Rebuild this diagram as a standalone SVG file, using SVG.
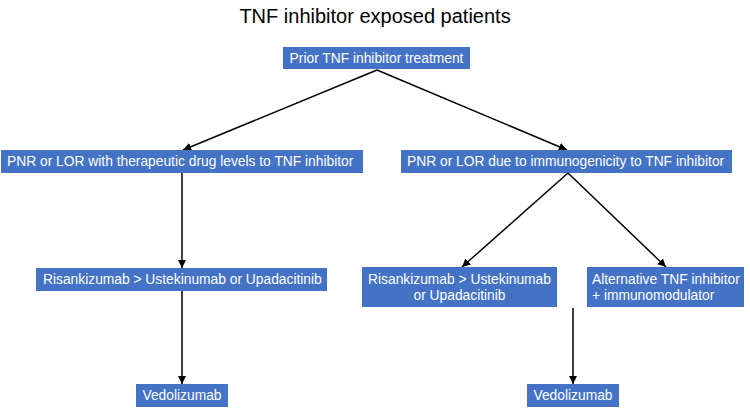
<svg xmlns="http://www.w3.org/2000/svg" width="750" height="408" viewBox="0 0 750 408">
<style>
.box{fill:#4472C4;}
.t{font-family:"Liberation Sans",Arial,sans-serif;font-size:13.8px;fill:#ffffff;}
.title{font-family:"Liberation Sans",Arial,sans-serif;font-size:20px;fill:#000000;}
.c{stroke:#000;stroke-width:1.5;fill:none;marker-end:url(#ah);}
</style>
<defs>
<marker id="ah" viewBox="0 0 10 10" refX="10" refY="5" markerWidth="5.5" markerHeight="5.5" orient="auto" markerUnits="strokeWidth">
<path d="M0,0 L10,5 L0,10 z" fill="#000"/>
</marker>
</defs>
<rect width="750" height="408" fill="#fff"/>
<text class="title" x="375" y="23" text-anchor="middle">TNF inhibitor exposed patients</text>
<g id="connectors">
<line class="c" x1="377" y1="70" x2="183" y2="150"/>
<line class="c" x1="377" y1="70" x2="567" y2="150"/>
<line class="c" x1="182" y1="173" x2="182" y2="268"/>
<line class="c" x1="182" y1="291" x2="182" y2="384"/>
<line class="c" x1="568" y1="173" x2="462" y2="267"/>
<line class="c" x1="568" y1="173" x2="666" y2="267"/>
<line class="c" x1="573" y1="308" x2="573" y2="384"/>
</g>
<g id="n1"><rect class="box" x="283" y="47" width="187" height="22"/><text class="t" x="376.5" y="63" text-anchor="middle">Prior TNF inhibitor treatment</text></g>
<g id="n2"><rect class="box" x="1" y="150" width="362" height="23"/><text class="t" x="7" y="166">PNR or LOR with therapeutic drug levels to TNF inhibitor</text></g>
<g id="n3"><rect class="box" x="401" y="150" width="331" height="23"/><text class="t" x="407" y="166">PNR or LOR due to immunogenicity to TNF inhibitor</text></g>
<g id="n4"><rect class="box" x="36" y="268" width="291" height="23"/><text class="t" x="43" y="284">Risankizumab &gt; Ustekinumab or Upadacitinib</text></g>
<g id="n5"><rect class="box" x="362" y="267" width="195" height="40"/><text class="t" x="459.5" y="284" text-anchor="middle">Risankizumab &gt; Ustekinumab</text><text class="t" x="459.5" y="300" text-anchor="middle">or Upadacitinib</text></g>
<g id="n6"><rect class="box" x="587" y="267" width="157" height="40"/><text class="t" x="592" y="284">Alternative TNF inhibitor</text><text class="t" x="592" y="300">+ immunomodulator</text></g>
<g id="n7"><rect class="box" x="136" y="384" width="92" height="23"/><text class="t" x="182" y="400" text-anchor="middle">Vedolizumab</text></g>
<g id="n8"><rect class="box" x="527" y="384" width="92" height="23"/><text class="t" x="573" y="400" text-anchor="middle">Vedolizumab</text></g>
</svg>
